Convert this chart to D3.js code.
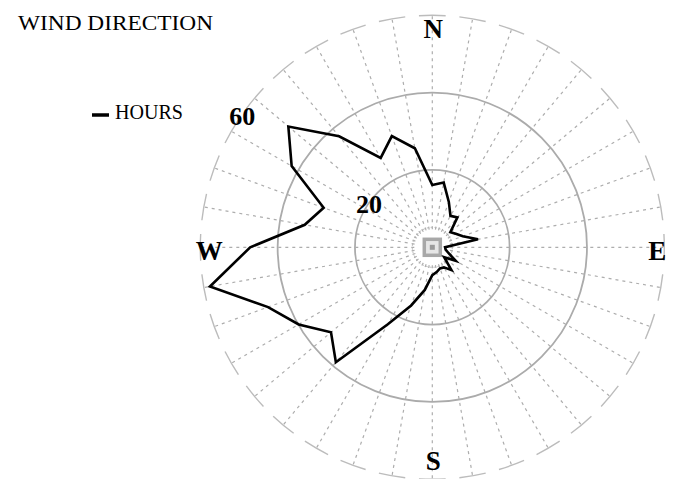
<!DOCTYPE html>
<html>
<head>
<meta charset="utf-8">
<script src="https://cdn.jsdelivr.net/npm/d3@7"></script>
<style>
  html, body { margin: 0; padding: 0; background: #fff; }
  svg { display: block; }
  text { font-family: "Liberation Serif", "Times New Roman", serif; fill: #000; }
</style>
</head>
<body>
<svg id="chart" width="678" height="479"></svg>
<script>
// compass bearings (deg, clockwise from north)
const directions = [0, 10, 20, 30, 40, 50, 60, 70, 80, 90, 100, 110, 120, 130, 140, 150, 160, 170,
                    180, 190, 200, 210, 220, 230, 240, 250, 260, 270, 280, 290, 300, 310, 320, 330, 340, 350];
// hours of wind from each direction
const hours = [16.1, 17, 12.5, 9.4, 10.1, 6.1, 7, 8.4, 12, 3.3, 3.5, 4.5, 7, 4, 7.7, 6, 5.8, 6.5,
               7.2, 11.2, 16, 23, 38.8, 34.2, 39.9, 45.2, 58.4, 47.1, 33.5, 29.9, 42, 48.6, 37.5, 26.7, 30.6, 26];
const ringValues = [20, 40, 60];
const tickLabels = [20, 60];
const compassLabels = ["N", "E", "S", "W"];
const compassBearings = [0, 90, 180, 270];

const cx = 432.3, cy = 247.3;
const rad = d => d * Math.PI / 180;

const svg = d3.select("#chart");
const r = d3.scaleLinear().domain([0, 60]).range([0, 232]);
const g = svg.append("g").attr("transform", `translate(${cx},${cy})`);

// spokes
g.selectAll("line.spoke")
  .data(directions)
  .enter().append("line")
  .attr("class", "spoke")
  .attr("x1", d => 18 * Math.sin(rad(d)))
  .attr("y1", d => -18 * Math.cos(rad(d)))
  .attr("x2", d => r(60) * Math.sin(rad(d)))
  .attr("y2", d => -r(60) * Math.cos(rad(d)))
  .attr("stroke", "#adadad")
  .attr("stroke-width", 1.2)
  .attr("stroke-dasharray", "3,4");

// inner rings (solid)
g.selectAll("circle.ring")
  .data(ringValues.slice(0, 2))
  .enter().append("circle")
  .attr("class", "ring")
  .attr("r", d => r(d))
  .attr("fill", "none")
  .attr("stroke", "#ababab")
  .attr("stroke-width", 1.8);

// outer ring drawn as pieces centred on spokes
const arc = d3.arc()
  .innerRadius(r(60))
  .outerRadius(r(60))
  .startAngle(d => rad(d - 3.3))
  .endAngle(d => rad(d + 3.3));
g.selectAll("path.outer")
  .data(directions)
  .enter().append("path")
  .attr("class", "outer")
  .attr("d", arc)
  .attr("fill", "none")
  .attr("stroke", "#bcbcbc")
  .attr("stroke-width", 1.4);

// small dashed ring + calm square at the centre
g.append("circle")
  .attr("r", 20)
  .attr("fill", "none")
  .attr("stroke", "#b4b4b4")
  .attr("stroke-width", 1)
  .attr("stroke-dasharray", "2,2");
g.append("rect")
  .attr("x", -8).attr("y", -8)
  .attr("width", 16).attr("height", 16)
  .attr("fill", "#e6e6e6")
  .attr("stroke", "#a8a8a8")
  .attr("stroke-width", 3.5);
g.append("rect")
  .attr("x", -2.5).attr("y", -2.5)
  .attr("width", 5).attr("height", 5)
  .attr("fill", "#9a9a9a");

// data polygon
const line = d3.lineRadial()
  .angle((d, i) => rad(directions[i]))
  .radius(d => r(d))
  .curve(d3.curveLinearClosed);
g.append("path")
  .datum(hours)
  .attr("d", line)
  .attr("fill", "none")
  .attr("stroke", "#000")
  .attr("stroke-width", 2.6)
  .attr("stroke-linejoin", "miter");

// value labels
g.selectAll("text.tick")
  .data(tickLabels)
  .enter().append("text")
  .attr("class", "tick")
  .attr("x", d => r(d) * Math.sin(rad(305)))
  .attr("y", d => -r(d) * Math.cos(rad(305)) + 2)
  .attr("text-anchor", "middle")
  .attr("dominant-baseline", "central")
  .attr("font-size", 26)
  .attr("font-weight", "bold")
  .text(d => d);

// compass letters (S sits a bit higher so it stays inside the frame)
g.selectAll("text.compass")
  .data(compassLabels)
  .enter().append("text")
  .attr("class", "compass")
  .attr("x", (d, i) => 224 * Math.sin(rad(compassBearings[i])) + 1)
  .attr("y", (d, i) => {
    const b = compassBearings[i];
    return b === 180 ? 214 : -222 * Math.cos(rad(b)) + 4;
  })
  .attr("text-anchor", "middle")
  .attr("dominant-baseline", "central")
  .attr("font-size", 27)
  .attr("font-weight", "bold")
  .text(d => d);

// title
svg.append("text")
  .attr("x", 18).attr("y", 30)
  .attr("font-size", 22)
  .attr("textLength", 195)
  .attr("lengthAdjust", "spacingAndGlyphs")
  .text("WIND DIRECTION");

// legend
svg.append("line")
  .attr("x1", 92).attr("x2", 109)
  .attr("y1", 115).attr("y2", 115)
  .attr("stroke", "#000")
  .attr("stroke-width", 3.5);
svg.append("text")
  .attr("x", 115).attr("y", 119)
  .attr("font-size", 20)
  .attr("textLength", 68)
  .attr("lengthAdjust", "spacingAndGlyphs")
  .text("HOURS");
</script>
</body>
</html>
